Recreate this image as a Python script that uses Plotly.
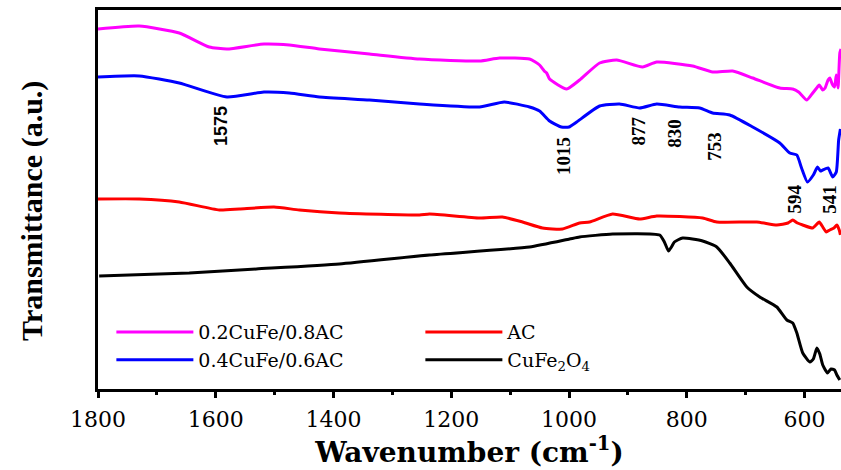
import plotly.graph_objects as go

# ---- data (wavenumber cm^-1, transmittance a.u.) ----
wn_02 = [1800, 1730, 1662, 1611, 1581, 1518, 1475, 1424, 1339, 1254, 1152, 1118, 1067, 1050,
         1042, 1038, 1033, 1004, 982, 948, 919, 875, 851, 790, 756, 722, 688, 642, 620, 610,
         596, 586, 578, 575, 569, 565, 560, 557, 553, 549, 546, 543, 540, 538]
t_02 = [360, 363, 356, 342, 340, 345, 344, 340, 335, 330, 328, 331, 330, 324,
        318, 316, 310, 300, 309, 326, 329, 322, 327, 323, 317, 318, 311, 301, 300, 297,
        289, 296, 302, 304, 299, 301, 309, 311, 305, 302, 314, 301, 336, 340]

wn_04 = [1800, 1730, 1662, 1581, 1518, 1475, 1424, 1339, 1254, 1152, 1110, 1067, 1050, 1033,
         1013, 1000, 987, 948, 914, 880, 851, 812, 778, 756, 727, 688, 642, 625, 613, 605,
         595, 585, 578, 573, 569, 560, 552, 546, 542, 539]
t_04 = [312, 313, 306, 292, 297, 296, 292, 289, 285, 282, 287, 282, 278, 268,
        262, 262, 267, 283, 285, 281, 285, 282, 281, 276, 274, 262, 246, 236, 234, 221,
        207, 214, 222, 218, 219, 221, 212, 217, 249, 260]

wn_ac = [1800, 1730, 1662, 1594, 1560, 1501, 1458, 1390, 1254, 1237, 1152, 1113, 1079, 1045,
         1011, 982, 965, 926, 880, 851, 773, 749, 681, 647, 628, 620, 612, 603, 586, 575,
         569, 563, 557, 550, 545, 541, 539]
t_ac = [190, 190, 187, 179, 180, 182, 179, 176, 174, 175, 171, 172, 167, 161,
        160, 166, 167, 175, 170, 173, 171, 167, 167, 164, 166, 169, 166, 164, 161, 167,
        162, 157, 159, 161, 164, 159, 154]

wn_cf = [1798, 1645, 1531, 1390, 1237, 1067, 999, 982, 926, 846, 838, 831, 826, 821, 807,
         773, 749, 727, 698, 676, 647, 630, 620, 613, 603, 591, 585, 579, 574, 569, 561,
         555, 549, 545, 540]
t_cf = [113, 116, 120, 125, 134, 142, 150, 152, 155, 154, 147, 138, 142, 147, 151,
        148, 142, 126, 102, 92, 82, 69, 66, 56, 36, 27, 30, 41, 35, 24, 16,
        20, 19, 14, 9]

series_names = ["0.2CuFe/0.8AC", "AC", "0.4CuFe/0.6AC", "CuFe<sub>2</sub>O<sub>4</sub>"]
series_colors = ["#FF00FF", "#FF0000", "#0000FF", "#000000"]
series_x = [wn_02, wn_ac, wn_04, wn_cf]
series_y = [t_02, t_ac, t_04, t_cf]

peak_labels = ["1575", "1015", "877", "830", "753", "594", "541"]
peak_label_x = [1591, 1010, 882, 822, 754, 617, 559]
peak_label_y = [263, 233, 258, 256, 243, 190, 190]

x_range = [1800, 538]
y_range = [0, 379]

fig = go.Figure()
for i, (nm, col, xs, ys) in enumerate(zip(series_names, series_colors, series_x, series_y)):
    fig.add_trace(go.Scatter(
        x=xs, y=ys, mode="lines", name=nm, legendrank=i + 1,
        line=dict(color=col, width=3, shape="spline", smoothing=0.5),
    ))

for i, (lab, px, py) in enumerate(zip(peak_labels, peak_label_x, peak_label_y)):
    fam = "Liberation Sans" if i == 0 else "Liberation Serif"
    fig.add_annotation(
        x=px, y=py, xref="x", yref="y", text="<b>%s</b>" % lab, showarrow=False,
        textangle=-90, font=dict(family=fam, size=18 if i == 0 else 19, color="black"),
    )

# y-axis title
fig.add_annotation(
    x=-0.0888, y=0.47, xref="paper", yref="paper", xanchor="center", yanchor="middle",
    text="<b>Transmittance (a.u.)</b>", showarrow=False, textangle=-90,
    font=dict(family="Liberation Serif", size=30, color="black"),
)

fig.update_layout(
    width=841, height=470,
    margin=dict(l=98, r=0, t=10, b=81),
    paper_bgcolor="white", plot_bgcolor="white",
    showlegend=True,
    legend=dict(
        orientation="h", x=0.018, y=0.2, xanchor="left", yanchor="top",
        entrywidth=217, entrywidthmode="pixels", itemwidth=77,
        font=dict(family="DejaVu Serif", size=19, color="black"),
        bgcolor="rgba(0,0,0,0)", traceorder="normal",
    ),
    xaxis=dict(
        range=x_range, showgrid=False, zeroline=False,
        showline=True, linecolor="black", linewidth=3, mirror=True,
        ticks="outside", ticklen=6, tickwidth=3, tickcolor="black",
        tick0=0, dtick=200,
        minor=dict(ticks="outside", ticklen=3, tickwidth=2.5, tickcolor="black", dtick=100, tick0=0),
        tickfont=dict(family="DejaVu Serif", size=22, color="black"),
        ticklabelstandoff=3,
        title=dict(text="<b>Wavenumber (cm<sup>-1</sup>)</b>",
                   font=dict(family="DejaVu Serif", size=28, color="black"), standoff=8),
    ),
    yaxis=dict(
        range=y_range, showgrid=False, zeroline=False,
        showline=True, linecolor="black", linewidth=3,
        ticks="", showticklabels=False,
    ),
)

fig.write_html("out.html")
